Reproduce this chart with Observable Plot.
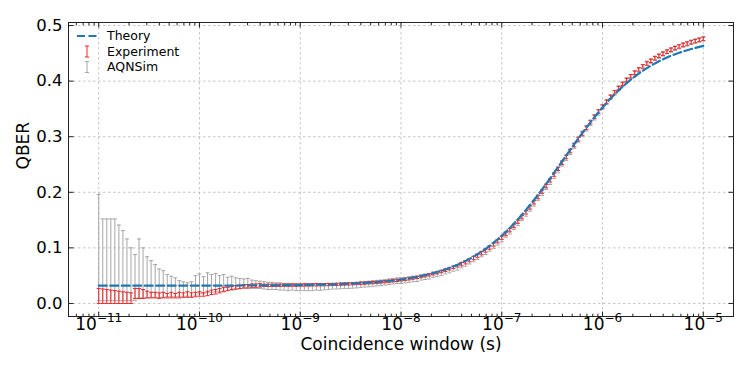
<!DOCTYPE html>
<html><head><meta charset="utf-8">
<script src="https://cdn.jsdelivr.net/npm/d3@7"></script>
<script src="https://cdn.jsdelivr.net/npm/@observablehq/plot@0.6"></script>
<style>body{margin:0;background:#fff;font-family:"DejaVu Sans",sans-serif}</style>
</head><body><div id="chart"></div>
<script>
// Coincidence windows (s): 151 log-spaced windows, 25 per decade, 1e-11 .. 1e-5
const windows = d3.range(151).map(i => Math.pow(10, -11 + i / 25));

const theory = [
.032,.032,.032,.032,.032,.032,.032,.032,.032,.032,.032,.032,.032,.032,.032,.032,.032,.032,.032,.032,.032,.032,.032,.032,.032,
.0321,.0321,.0321,.0321,.0321,.0322,.0322,.0322,.0322,.0322,.0323,.0323,.0323,.0324,.0324,.0324,.0325,.0325,.0326,.0326,.0327,.0328,.0329,.0329,.0330,
.0331,.0332,.0334,.0335,.0336,.0338,.0340,.0341,.0344,.0346,.0348,.0351,.0354,.0357,.0361,.0364,.0369,.0373,.0378,.0384,.0390,.0397,.0404,.0412,.0420,
.0430,.0440,.0451,.0464,.0477,.0492,.0507,.0525,.0543,.0564,.0586,.0610,.0636,.0664,.0694,.0727,.0763,.0801,.0842,.0886,.0933,.0983,.1037,.1094,.1155,
.1219,.1287,.1359,.1434,.1513,.1596,.1681,.1770,.1862,.1956,.2053,.2152,.2252,.2354,.2457,.2560,.2663,.2766,.2868,.2968,.3067,.3164,.3258,.3350,.3439,
.3524,.3607,.3686,.3761,.3833,.3901,.3965,.4026,.4083,.4137,.4187,.4234,.4278,.4319,.4357,.4393,.4426,.4456,.4484,.4510,.4534,.4556,.4577,.4597,.4617,
.4635];

const experiment = [
.0135,.013,.0125,.012,.0115,.011,.0105,.010,.0095,.018,.018,.017,.016,.015,.015,.014,.015,.014,.015,.014,.015,.015,.016,.015,.016,
.017,.016,.018,.020,.021,.023,.025,.026,.028,.029,.030,.031,.031,.032,.032,.0325,.0326,.0326,.0327,.0327,.0327,.0328,.0328,.0329,.0329,
.0330,.0331,.0332,.0334,.0335,.0336,.0338,.0340,.0341,.0344,.0347,.0349,.0352,.0355,.0358,.0362,.0365,.0371,.0375,.0380,.0386,.0392,.0400,.0407,.0415,
.0424,.0434,.0444,.0456,.0469,.0483,.0498,.0514,.0533,.0551,.0573,.0596,.0621,.0648,.0677,.0708,.0742,.0779,.0817,.0860,.0905,.0953,.1005,.1061,.1120,
.1183,.1250,.1319,.1394,.1471,.1553,.1639,.1727,.1819,.1914,.2011,.2111,.2214,.2317,.2422,.2528,.2634,.2741,.2848,.2953,.3056,.3159,.3259,.3356,.3451,
.3543,.3631,.3717,.3799,.3876,.3951,.4021,.4087,.4150,.4209,.4265,.4317,.4365,.4411,.4453,.4492,.4529,.4564,.4595,.4624,.4651,.4676,.4699,.4720,.4741,
.4762];

const experimentErr = [
.0135,.013,.0125,.012,.0115,.011,.0105,.010,.0095,.009,.009,.008,.006,.005,.005,.005,.005,.004,.005,.004,.005,.004,.005,.004,.004,
.004,.003,.004,.004,.004,.004,.004,.003,.003,.003,.003,.003,.003,.003,.003,.003,.002,.002,.002,.002,.002,.002,.002,.002,.002,
.002,.002,.002,.002,.002,.002,.002,.002,.002,.002,.002,.002,.002,.002,.002,.002,.002,.002,.002,.002,.002,.002,.002,.002,.002,
.002,.002,.002,.002,.002,.002,.002,.002,.002,.002,.002,.002,.002,.002,.002,.003,.003,.003,.003,.003,.003,.003,.003,.003,.003,
.003,.003,.003,.003,.003,.003,.003,.003,.003,.003,.003,.003,.003,.003,.003,.003,.003,.003,.003,.003,.003,.003,.003,.003,.003,
.003,.003,.003,.003,.003,.003,.003,.003,.003,.003,.003,.003,.003,.003,.003,.003,.003,.003,.003,.003,.003,.003,.003,.003,.003,
.003];

const aqnsim = [
.1005,.0785,.0785,.0785,.0785,.073,.068,.0605,.0525,.0465,.063,.055,.047,.044,.0405,.0365,.035,.032,.0305,.029,.0265,.026,.025,.026,.0325,
.0355,.0335,.0375,.036,.0375,.0355,.037,.035,.0365,.0355,.0355,.0355,.036,.0345,.034,.0335,.0325,.0315,.0315,.031,.0305,.030,.0295,.030,.029,
.029,.0295,.029,.029,.030,.0295,.030,.0305,.031,.031,.0315,.032,.032,.0325,.033,.034,.0345,.035,.036,.0365,.037,.038,.039,.040,.041,
.041,.042,.043,.044,.0445,.047,.048,.049,.052,.053,.055,.058,.060,.063,.065,.069,.072,.076,.080,.084,.089,.093,.099,.104,.110,
.116,.124,.130,.138,.145,.154,.162,.171,.180,.190,.199,.210,.219,.230,.240,.252,.262,.273,.284,.295,.305,.315,.325,.335,.344,
.353,.362,.371,.379,.387,.394,.402,.408,.415,.420,.426,.432,.436,.441,.445,.449,.453,.456,.459,.462,.465,.467,.470,.472,.474,
.476];

const aqnsimErr = [
.0955,.0735,.0735,.0735,.0735,.068,.063,.0555,.0475,.0415,.053,.045,.037,.033,.0295,.0255,.024,.020,.0185,.017,.0145,.013,.012,.013,.0175,
.0175,.0145,.0175,.016,.0165,.0145,.015,.012,.0125,.0105,.0095,.0085,.009,.0075,.007,.0065,.0065,.0065,.0065,.006,.0065,.006,.0065,.006,.006,
.006,.0065,.006,.006,.006,.006,.0055,.0055,.005,.005,.005,.005,.005,.005,.005,.005,.005,.005,.005,.005,.005,.005,.005,.005,.005,
.005,.005,.005,.005,.005,.005,.005,.005,.005,.005,.005,.005,.005,.005,.005,.005,.005,.005,.005,.005,.005,.005,.005,.005,.005,
.005,.005,.005,.005,.005,.005,.005,.005,.005,.005,.005,.005,.005,.005,.005,.005,.005,.005,.005,.005,.005,.005,.005,.005,.005,
.004,.004,.004,.004,.004,.004,.004,.004,.004,.004,.004,.004,.004,.004,.004,.004,.004,.004,.004,.004,.004,.004,.004,.004,.004,
.004];

const xMajorTicks = [1e-11, 1e-10, 1e-9, 1e-8, 1e-7, 1e-6, 1e-5];
const xTickExponents = ["\u221211", "\u221210", "\u22129", "\u22128", "\u22127", "\u22126", "\u22125"];
const yTicks = [0, 0.1, 0.2, 0.3, 0.4, 0.5];
const yTickLabels = ["0.0", "0.1", "0.2", "0.3", "0.4", "0.5"];
const legendLabels = ["Theory", "Experiment", "AQNSim"];

const BLUE = "#1f77b4", RED = "#f42424", GREY = "#a6a6a6";

const rows = windows.map((w, i) => ({
  w, theory: theory[i],
  expLo: experiment[i] - experimentErr[i], expHi: experiment[i] + experimentErr[i],
  simLo: aqnsim[i] - aqnsimErr[i], simHi: aqnsim[i] + aqnsimErr[i]
}));

const xDomain = [Math.pow(10, -11.3), Math.pow(10, -4.7)];
const xMinorTicks = [];
for (let k = -12; k <= -5; k++) for (let m = 2; m <= 9; m++) {
  const v = m * Math.pow(10, k);
  if (v > xDomain[0] && v < xDomain[1]) xMinorTicks.push(v);
}

const hCap = {draw(ctx, size) { const r = Math.sqrt(size / Math.PI); ctx.moveTo(-r, 0); ctx.lineTo(r, 0); }};
const vUp = {draw(ctx, size) { const r = Math.sqrt(size / Math.PI); ctx.moveTo(0, 0); ctx.lineTo(0, -r); }};
const vDown = {draw(ctx, size) { const r = Math.sqrt(size / Math.PI); ctx.moveTo(0, 0); ctx.lineTo(0, r); }};
const hRight = {draw(ctx, size) { const r = Math.sqrt(size / Math.PI); ctx.moveTo(0, 0); ctx.lineTo(r, 0); }};
const hLeft = {draw(ctx, size) { const r = Math.sqrt(size / Math.PI); ctx.moveTo(0, 0); ctx.lineTo(-r, 0); }};

const tickStyle = {fill: "none", stroke: "#222", strokeWidth: 1};

const svg = Plot.plot({
  width: 750, height: 375,
  marginLeft: 68, marginRight: 17, marginTop: 22, marginBottom: 59,
  style: {fontFamily: "DejaVu Sans, sans-serif", background: "white", color: "black", overflow: "visible"},
  x: {type: "log", domain: xDomain, axis: null},
  y: {domain: [-0.0235, 0.5055], axis: null},
  marks: [
    Plot.ruleX(xMajorTicks, {x: d => d, stroke: "#b8b8b8", strokeWidth: 0.8, strokeDasharray: "2.5,2.5"}),
    Plot.ruleY(yTicks, {y: d => d, stroke: "#b8b8b8", strokeWidth: 0.8, strokeDasharray: "2.5,2.5"}),
    // AQNSim error bars
    Plot.ruleX(rows, {x: "w", y1: "simLo", y2: "simHi", stroke: GREY, strokeWidth: 1}),
    Plot.dot(rows, {x: "w", y: "simLo", symbol: hCap, r: 2, fill: "none", stroke: GREY, strokeWidth: 1}),
    Plot.dot(rows, {x: "w", y: "simHi", symbol: hCap, r: 2, fill: "none", stroke: GREY, strokeWidth: 1}),
    // Experiment error bars
    Plot.ruleX(rows, {x: "w", y1: "expLo", y2: "expHi", stroke: RED, strokeWidth: 1}),
    Plot.dot(rows, {x: "w", y: "expLo", symbol: hCap, r: 2, fill: "none", stroke: RED, strokeWidth: 1}),
    Plot.dot(rows, {x: "w", y: "expHi", symbol: hCap, r: 2, fill: "none", stroke: RED, strokeWidth: 1}),
    // Theory
    Plot.line(rows, {x: "w", y: "theory", stroke: BLUE, strokeWidth: 2.2, strokeDasharray: "8,3.5"}),
    Plot.frame({stroke: "#222", strokeWidth: 1}),
    // inward ticks
    Plot.dot(xMajorTicks, {x: d => d, frameAnchor: "bottom", symbol: vUp, r: 5, ...tickStyle}),
    Plot.dot(xMajorTicks, {x: d => d, frameAnchor: "top", symbol: vDown, r: 5, ...tickStyle}),
    Plot.dot(xMinorTicks, {x: d => d, frameAnchor: "bottom", symbol: vUp, r: 2.8, ...tickStyle}),
    Plot.dot(xMinorTicks, {x: d => d, frameAnchor: "top", symbol: vDown, r: 2.8, ...tickStyle}),
    Plot.dot(yTicks, {y: d => d, frameAnchor: "left", symbol: hRight, r: 5, ...tickStyle}),
    Plot.dot(yTicks, {y: d => d, frameAnchor: "right", symbol: hLeft, r: 5, ...tickStyle}),
    // tick labels
    Plot.text(yTicks, {y: d => d, text: (d, i) => yTickLabels[i], frameAnchor: "left", dx: -6, textAnchor: "end", fontSize: 16.5, fill: "black"}),
    Plot.text(xMajorTicks, {x: d => d, text: () => "10", frameAnchor: "bottom", dy: 13, fontSize: 17, fill: "black"}),
    // axis titles
    Plot.text(["Coincidence window (s)"], {text: d => d, frameAnchor: "bottom", dy: 33, fontSize: 17, fill: "black"}),
    Plot.text(["QBER"], {text: d => d, frameAnchor: "left", dx: -45, rotate: -90, fontSize: 17, fill: "black"})
  ]
});

// superscript exponents on x tick labels
let k = 0;
svg.querySelectorAll("text").forEach(t => {
  if (t.textContent === "10" && k < xTickExponents.length) {
    const ts = document.createElementNS("http://www.w3.org/2000/svg", "tspan");
    ts.setAttribute("dy", "-7.5");
    ts.setAttribute("font-size", "12");
    ts.textContent = xTickExponents[k++];
    t.appendChild(ts);
  }
});

// legend
const s = d3.select(svg);
const lg = s.append("g").attr("font-family", "DejaVu Sans, sans-serif").attr("font-size", 12.5).attr("text-anchor", "start");
const ly = [36, 51.5, 67];
lg.append("line").attr("x1", 77).attr("x2", 97).attr("y1", ly[0]).attr("y2", ly[0])
  .attr("stroke", BLUE).attr("stroke-width", 2.2).attr("stroke-dasharray", "8,3.5");
[[RED, ly[1]], [GREY, ly[2]]].forEach(([c, y]) => {
  lg.append("line").attr("x1", 87).attr("x2", 87).attr("y1", y - 5.5).attr("y2", y + 5.5).attr("stroke", c).attr("stroke-width", 1);
  lg.append("line").attr("x1", 85).attr("x2", 89).attr("y1", y - 5.5).attr("y2", y - 5.5).attr("stroke", c).attr("stroke-width", 1);
  lg.append("line").attr("x1", 85).attr("x2", 89).attr("y1", y + 5.5).attr("y2", y + 5.5).attr("stroke", c).attr("stroke-width", 1);
});
legendLabels.forEach((l, i) => {
  lg.append("text").attr("x", 107).attr("y", ly[i]).attr("dy", "0.35em").attr("fill", "black").attr("text-anchor", "start").text(l);
});

document.getElementById("chart").appendChild(svg);
</script>
</body></html>
